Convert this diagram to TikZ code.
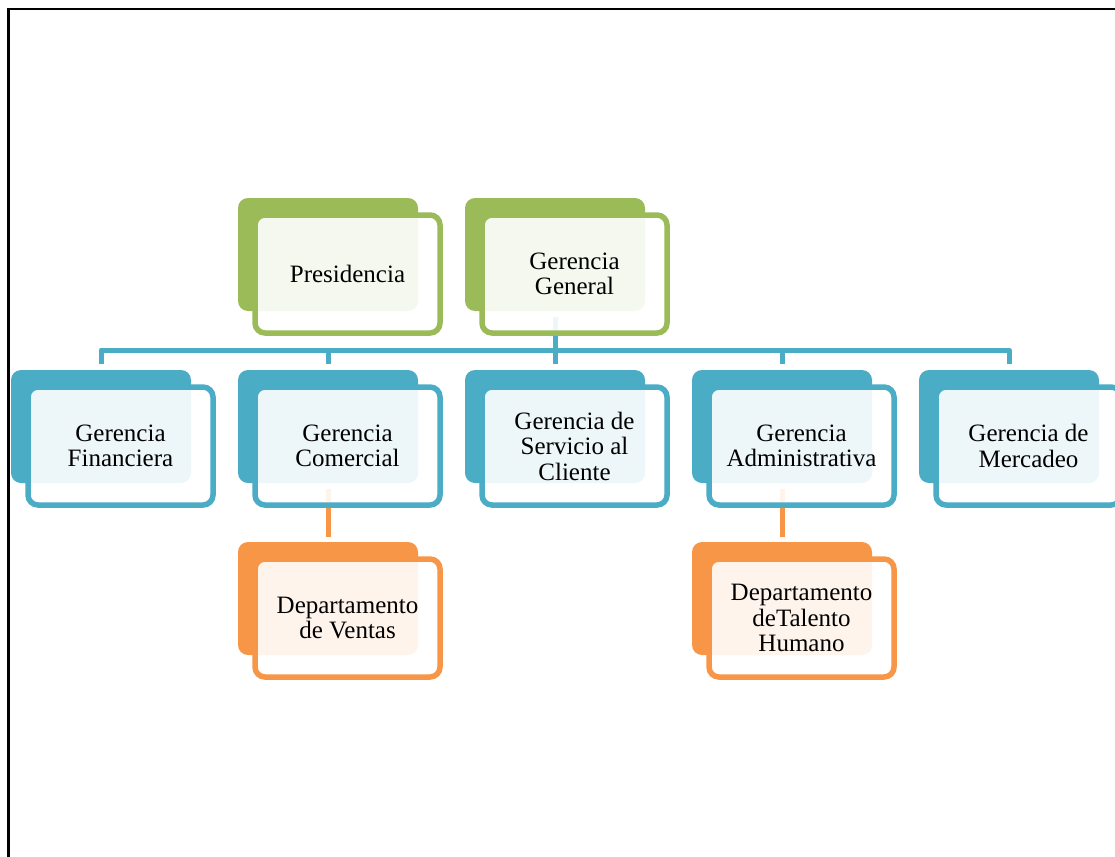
\documentclass[tikz,border=0pt]{standalone}
\usepackage{fontspec}
\setmainfont{Liberation Serif}
\definecolor{accGreen}{HTML}{9BBB59}
\definecolor{accBlue}{HTML}{4BACC6}
\definecolor{accOrange}{HTML}{F79646}
\begin{document}
\begin{tikzpicture}[x=1pt,y=-1pt,
  backbox/.style={fill=#1, rounded corners=10pt, minimum width=180pt,
    minimum height=113pt, inner sep=0pt, outer sep=0pt, anchor=north west},
  frontbox/.style={draw=#1, line width=5.5pt, fill=white, fill opacity=0.9,
    text opacity=1, rounded corners=10pt, minimum width=185pt,
    minimum height=118pt, inner sep=0pt, outer sep=0pt, align=center,
    anchor=north west, font=\fontsize{25}{25.5}\selectfont},
  conn/.style={draw=#1, line width=5pt, line join=round},
  pageframe/.style={draw=black, line width=2.5pt}]
\useasboundingbox (0,0) rectangle (1115,856);
\clip (0,0) rectangle (1115,856);

% page frame
\draw[pageframe] (8.5,870) -- (8.5,9) -- (1130,9);

% filled back plates
\node[backbox=accGreen] (pres) at (238,198) {};
\node[backbox=accGreen] (gen)  at (465,198) {};
\node[backbox=accBlue]  (fin)  at (11,370) {};
\node[backbox=accBlue]  (com)  at (238,370) {};
\node[backbox=accBlue]  (serv) at (465,370) {};
\node[backbox=accBlue]  (adm)  at (692,370) {};
\node[backbox=accBlue]  (merc) at (919,370) {};
\node[backbox=accOrange] (ven) at (238,542) {};
\node[backbox=accOrange] (tal) at (692,542) {};

% connectors
\draw[conn=accBlue] ([yshift=6pt]fin.north) -- ([yshift=20pt]fin.north)
  -- ([yshift=20pt]merc.north) -- ([yshift=6pt]merc.north);
\draw[conn=accBlue] ([yshift=20pt]com.north) -- ([yshift=6pt]com.north);
\draw[conn=accBlue] ([yshift=20pt]adm.north) -- ([yshift=6pt]adm.north);
\draw[conn=accBlue] ([yshift=-6pt]gen.south) -- ([yshift=6pt]serv.north);
\draw[conn=accOrange] ([yshift=-6pt]com.south) -- ([yshift=5pt]ven.north);
\draw[conn=accOrange] ([yshift=-6pt]adm.south) -- ([yshift=5pt]tal.north);

% outlined front panels with labels
\node[frontbox=accGreen] (pres-t) at (255,215) {Presidencia};
\node[frontbox=accGreen] (gen-t)  at (482,215) {Gerencia\\General};
\node[frontbox=accBlue]  (fin-t)  at (28,387) {Gerencia\\Financiera};
\node[frontbox=accBlue]  (com-t)  at (255,387) {Gerencia\\Comercial};
\node[frontbox=accBlue]  (serv-t) at (482,387) {Gerencia de\\Servicio al\\Cliente};
\node[frontbox=accBlue]  (adm-t)  at (709,387) {Gerencia\\Administrativa};
\node[frontbox=accBlue]  (merc-t) at (936,387) {Gerencia de\\Mercadeo};
\node[frontbox=accOrange] (ven-t) at (255,559) {Departamento\\de Ventas};
\node[frontbox=accOrange] (tal-t) at (709,559) {Departamento\\deTalento\\Humano};
\end{tikzpicture}
\end{document}
